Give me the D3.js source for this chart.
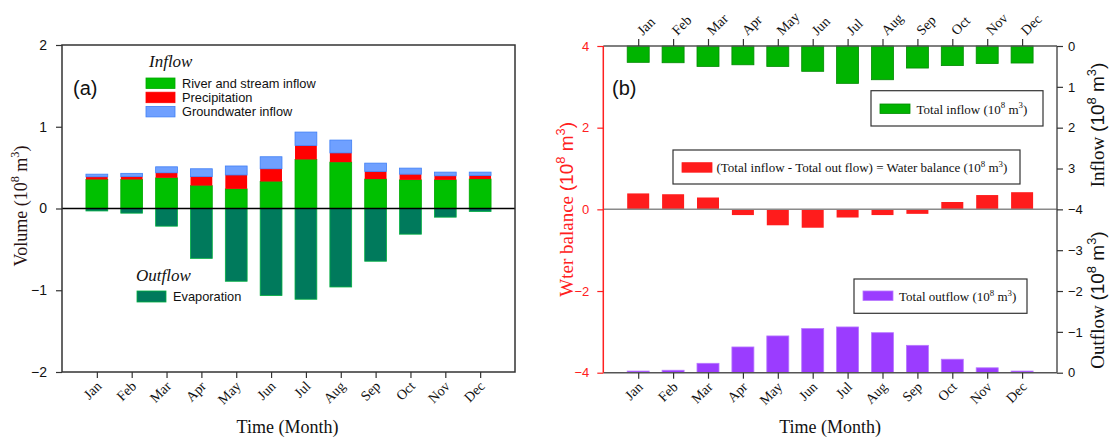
<!DOCTYPE html>
<html>
<head>
<meta charset="utf-8">
<script src="https://cdn.jsdelivr.net/npm/d3@7"></script>
<style>
html,body{margin:0;padding:0;background:#fff;}
svg{display:block;}
</style>
</head>
<body>
<svg id="chart" width="1109" height="440"></svg>
<script>
// ---------------- DATA ----------------
const months = ["Jan","Feb","Mar","Apr","May","Jun","Jul","Aug","Sep","Oct","Nov","Dec"];
// Panel (a) components (10^8 m^3)
const riverInflow   = [0.355,0.355,0.375,0.28,0.24,0.33,0.60,0.567,0.36,0.35,0.35,0.36];
const precipitation = [0.033,0.035,0.062,0.11,0.17,0.156,0.17,0.113,0.093,0.07,0.05,0.044];
const groundwater   = [0.032,0.04,0.073,0.096,0.11,0.147,0.165,0.157,0.102,0.074,0.045,0.041];
const evaporation   = [-0.03,-0.057,-0.216,-0.61,-0.89,-1.065,-1.11,-0.96,-0.645,-0.314,-0.106,-0.037];
// Panel (b)
const totalInflow   = [0.40,0.41,0.50,0.46,0.50,0.62,0.915,0.826,0.54,0.48,0.43,0.417];
const waterBalance  = [0.39,0.37,0.29,-0.14,-0.39,-0.45,-0.20,-0.14,-0.11,0.18,0.35,0.42];
const totalOutflow  = [-0.04,-0.06,-0.23,-0.63,-0.90,-1.08,-1.12,-0.98,-0.67,-0.33,-0.12,-0.04];
// Tick values
const ticksA = [-2,-1,0,1,2];
const ticksBLeft = [-4,-2,0,2,4];
const ticksInflow = [0,1,2,3];
const ticksOutflow = [-4,-3,-2,-1,0];

// ---------------- SETUP ----------------
const svg = d3.select("#chart");
const SERIF = "'Liberation Serif','Times New Roman',serif";
const SANS = "'Liberation Sans',Arial,sans-serif";
const monthIdx = d3.range(1,13);

// parts: [text, mode, fontFamily?]; mode 1 = superscript, -1 = back to baseline
function supText(sel, parts, fs){
  parts.forEach(([t,s,ff]) => {
    const ts = sel.append("tspan").text(t);
    if (ff) ts.attr("font-family", ff);
    if (s === 1) ts.attr("font-size", fs*0.68).attr("dy", -fs*0.42);
    else if (s === -1) ts.attr("dy", fs*0.42);
  });
}

// ================= PANEL (a) =================
const A = {l:62, r:515, t:45, b:372};
const xA = d3.scaleLinear().domain([0,13]).range([A.l, A.r]);
const yA = d3.scaleLinear().domain([-2,2]).range([A.b, A.t]);
const bw = 21.8;
const gA = svg.append("g");

const stackA = months.map((m,i)=>({i, r:riverInflow[i], p:precipitation[i], g:groundwater[i], e:evaporation[i]}));
gA.selectAll(".river").data(stackA).join("rect")
  .attr("x", d=>xA(d.i+1)-bw/2).attr("width", bw)
  .attr("y", d=>yA(d.r)).attr("height", d=>yA(0)-yA(d.r))
  .attr("fill","#00C000").attr("stroke","#00A800").attr("stroke-width",0.8);
gA.selectAll(".prec").data(stackA).join("rect")
  .attr("x", d=>xA(d.i+1)-bw/2).attr("width", bw)
  .attr("y", d=>yA(d.r+d.p)).attr("height", d=>yA(d.r)-yA(d.r+d.p))
  .attr("fill","#FF0000");
gA.selectAll(".gw").data(stackA).join("rect")
  .attr("x", d=>xA(d.i+1)-bw/2).attr("width", bw)
  .attr("y", d=>yA(d.r+d.p+d.g)).attr("height", d=>yA(d.r+d.p)-yA(d.r+d.p+d.g))
  .attr("fill","#6FA0FF").attr("stroke","#3F7FF5").attr("stroke-width",0.8);
gA.selectAll(".evap").data(stackA).join("rect")
  .attr("x", d=>xA(d.i+1)-bw/2).attr("width", bw)
  .attr("y", yA(0)).attr("height", d=>yA(d.e)-yA(0))
  .attr("fill","#007A5C").attr("stroke","#00B040").attr("stroke-width",0.8);

gA.append("line").attr("x1",A.l).attr("x2",A.r).attr("y1",yA(0)).attr("y2",yA(0))
  .attr("stroke","#000").attr("stroke-width",1.5);
gA.append("rect").attr("x",A.l).attr("y",A.t).attr("width",A.r-A.l).attr("height",A.b-A.t)
  .attr("fill","none").attr("stroke","#333").attr("stroke-width",1.5);

const axA = gA.append("g").attr("transform",`translate(${A.l},0)`)
  .call(d3.axisLeft(yA).tickValues(ticksA).tickSize(6).tickPadding(9).tickFormat(d3.format("d")));
axA.select(".domain").remove();
axA.selectAll("line").attr("stroke","#333").attr("stroke-width",1.2);
axA.selectAll("text").attr("font-family",SANS).attr("font-size",14).attr("fill","#111");
const axAx = gA.append("g").attr("transform",`translate(0,${A.b})`)
  .call(d3.axisBottom(xA).tickValues(monthIdx).tickSize(6).tickFormat(i=>months[i-1]));
axAx.select(".domain").remove();
axAx.selectAll("line").attr("stroke","#333").attr("stroke-width",1.2);
axAx.selectAll("text").attr("y",0).attr("dy",0)
  .attr("transform","translate(5,15) rotate(-45)").attr("text-anchor","end")
  .attr("font-family",SERIF).attr("font-size",14).attr("fill","#111");

gA.append("text").attr("x",(A.l+A.r)/2-1).attr("y",433).attr("text-anchor","middle")
  .attr("font-family",SERIF).attr("font-size",18).attr("fill","#111").text("Time (Month)");
const ylA = gA.append("text").attr("transform","translate(27,206) rotate(-90)")
  .attr("text-anchor","middle").attr("font-family",SERIF).attr("font-size",18).attr("fill","#2a1414");
supText(ylA, [["Volume  (10",0],["8",1],[" m",-1],["3",1],[")",-1]], 18);

gA.append("text").attr("x",73).attr("y",95).attr("font-family",SANS).attr("font-size",20).attr("fill","#111").text("(a)");
gA.append("text").attr("x",149).attr("y",67).attr("font-family",SERIF).attr("font-style","italic")
  .attr("font-size",17).attr("fill","#111").text("Inflow");
const legA = [["River and stream inflow","#00C000","#00A800"],["Precipitation","#FF0000","#FF0000"],["Groundwater inflow","#6FA0FF","#3F7FF5"]];
legA.forEach(([t,f,s],k)=>{
  gA.append("rect").attr("x",146).attr("y",78+k*14.2).attr("width",29).attr("height",10.5)
    .attr("fill",f).attr("stroke",s).attr("stroke-width",0.8);
  gA.append("text").attr("x",182).attr("y",88+k*14.2).attr("font-family",SANS).attr("font-size",12.8)
    .attr("fill","#111").text(t);
});
gA.append("text").attr("x",136).attr("y",281).attr("font-family",SERIF).attr("font-style","italic")
  .attr("font-size",17).attr("fill","#111").text("Outflow");
gA.append("rect").attr("x",137).attr("y",291).attr("width",29).attr("height",11)
  .attr("fill","#007A5C").attr("stroke","#00B040").attr("stroke-width",0.8);
gA.append("text").attr("x",173).attr("y",301).attr("font-family",SANS).attr("font-size",12.8)
  .attr("fill","#111").text("Evaporation");

// ================= PANEL (b) =================
const B = {l:603.3, r:1057, t:46, b:372.7};
const midB = (B.t+B.b)/2;
const xB = d3.scaleLinear().domain([0,13]).range([B.l, B.r]);
const yBL = d3.scaleLinear().domain([-4,4]).range([B.b, B.t]);
const yIn = d3.scaleLinear().domain([0,4]).range([B.t, midB]);
const yOut = d3.scaleLinear().domain([-4,0]).range([midB, B.b]);
const bwB = 22;
const gB = svg.append("g");

gB.selectAll(".tin").data(totalInflow).join("rect")
  .attr("x",(d,i)=>xB(i+1)-bwB/2).attr("width",bwB)
  .attr("y",yIn(0)).attr("height",d=>yIn(d)-yIn(0))
  .attr("fill","#00B400").attr("stroke","#008A00").attr("stroke-width",0.8);
gB.selectAll(".wb").data(waterBalance).join("rect")
  .attr("x",(d,i)=>xB(i+1)-bwB/2).attr("width",bwB)
  .attr("y",d=>yBL(Math.max(0,d))).attr("height",d=>Math.abs(yBL(d)-yBL(0)))
  .attr("fill","#FF1C1C");
gB.selectAll(".tout").data(totalOutflow).join("rect")
  .attr("x",(d,i)=>xB(i+1)-bwB/2).attr("width",bwB)
  .attr("y",d=>yOut(d)).attr("height",d=>yOut(0)-yOut(d))
  .attr("fill","#9B3CFF").attr("stroke","#B878FF").attr("stroke-width",0.8);

gB.append("line").attr("x1",B.l).attr("x2",B.r).attr("y1",yBL(0)).attr("y2",yBL(0))
  .attr("stroke","#8a8a8a").attr("stroke-width",1.5);
gB.append("line").attr("x1",B.l).attr("x2",B.r).attr("y1",B.t).attr("y2",B.t).attr("stroke","#555").attr("stroke-width",1.5);
gB.append("line").attr("x1",B.l).attr("x2",B.r).attr("y1",B.b).attr("y2",B.b).attr("stroke","#555").attr("stroke-width",1.5);
gB.append("line").attr("x1",B.r).attr("x2",B.r).attr("y1",B.t).attr("y2",B.b).attr("stroke","#555").attr("stroke-width",1.5);
gB.append("line").attr("x1",B.l).attr("x2",B.l).attr("y1",B.t).attr("y2",B.b).attr("stroke","#FF2020").attr("stroke-width",1.5);

const axBL = gB.append("g").attr("transform",`translate(${B.l},0)`)
  .call(d3.axisLeft(yBL).tickValues(ticksBLeft).tickSize(6).tickPadding(8).tickFormat(d3.format("d")));
axBL.select(".domain").remove();
axBL.selectAll("line").attr("stroke","#FF2020").attr("stroke-width",1.2);
axBL.selectAll("text").attr("font-family",SANS).attr("font-size",13).attr("fill","#FF2020");
const axIn = gB.append("g").attr("transform",`translate(${B.r},0)`)
  .call(d3.axisRight(yIn).tickValues(ticksInflow).tickSize(6).tickPadding(5).tickFormat(d3.format("d")));
const axOut = gB.append("g").attr("transform",`translate(${B.r},0)`)
  .call(d3.axisRight(yOut).tickValues(ticksOutflow).tickSize(6).tickPadding(5).tickFormat(d3.format("d")));
[axIn,axOut].forEach(a=>{
  a.select(".domain").remove();
  a.selectAll("line").attr("stroke","#333").attr("stroke-width",1.2);
  a.selectAll("text").attr("font-family",SANS).attr("font-size",13).attr("fill","#111");
});
const axBT = gB.append("g").attr("transform",`translate(0,${B.t})`)
  .call(d3.axisTop(xB).tickValues(monthIdx).tickSize(7).tickFormat(i=>months[i-1]));
axBT.select(".domain").remove();
axBT.selectAll("line").attr("stroke","#333").attr("stroke-width",1.2);
axBT.selectAll("text").attr("y",0).attr("dy",0)
  .attr("transform","translate(4,-10) rotate(-45)").attr("text-anchor","start")
  .attr("font-family",SERIF).attr("font-size",14).attr("fill","#111");
const axBB = gB.append("g").attr("transform",`translate(0,${B.b})`)
  .call(d3.axisBottom(xB).tickValues(monthIdx).tickSize(6).tickFormat(i=>months[i-1]));
axBB.select(".domain").remove();
axBB.selectAll("line").attr("stroke","#333").attr("stroke-width",1.2);
axBB.selectAll("text").attr("y",0).attr("dy",0)
  .attr("transform","translate(5,15) rotate(-45)").attr("text-anchor","end")
  .attr("font-family",SERIF).attr("font-size",14).attr("fill","#111");

gB.append("text").attr("x",(B.l+B.r)/2).attr("y",433).attr("text-anchor","middle")
  .attr("font-family",SERIF).attr("font-size",18).attr("fill","#111").text("Time (Month)");
const ylB = gB.append("text").attr("transform",`translate(573,${midB}) rotate(-90)`)
  .attr("text-anchor","middle").attr("font-family",SERIF).attr("font-size",19).attr("fill","#FF2020");
supText(ylB, [["Wter balance  ",0],["(10",0,SANS],["8",1,SANS],[" m",-1,SANS],["3",1,SANS],[")",-1,SANS]], 19);
const yrIn = gB.append("text").attr("transform",`translate(1104,125) rotate(-90)`)
  .attr("text-anchor","middle").attr("font-family",SERIF).attr("font-size",19).attr("fill","#111");
supText(yrIn, [["Inflow  ",0],["(10",0,SANS],["8",1,SANS],[" m",-1,SANS],["3",1,SANS],[")",-1,SANS]], 19);
const yrOut = gB.append("text").attr("transform",`translate(1104,300) rotate(-90)`)
  .attr("text-anchor","middle").attr("font-family",SERIF).attr("font-size",19).attr("fill","#111");
supText(yrOut, [["Outflow  ",0],["(10",0,SANS],["8",1,SANS],[" m",-1,SANS],["3",1,SANS],[")",-1,SANS]], 19);

gB.append("text").attr("x",612).attr("y",95).attr("font-family",SANS).attr("font-size",20).attr("fill","#111").text("(b)");

function legendBox(x,y,w,h,sx,sy,fill,stroke,tx,ty,parts){
  gB.append("rect").attr("x",x).attr("y",y).attr("width",w).attr("height",h)
    .attr("fill","#fff").attr("stroke","#333").attr("stroke-width",1.2);
  gB.append("rect").attr("x",sx).attr("y",sy).attr("width",30).attr("height",9.5)
    .attr("fill",fill).attr("stroke",stroke).attr("stroke-width",0.8);
  const t = gB.append("text").attr("x",tx).attr("y",ty).attr("font-family",SERIF)
    .attr("font-size",13).attr("fill","#111");
  supText(t, parts, 13);
}
legendBox(871,90.7,172,35.3, 880,104,"#00B400","#008A00", 916.5,113.5,
  [["Total inflow (10",0],["8",1],[" m",-1],["3",1],[")",-1]]);
legendBox(673,150,347,34, 682,162.7,"#FF1C1C","#FF1C1C", 716.5,172,
  [["(Total inflow - Total out flow) = Water balance (10",0],["8",1],[" m",-1],["3",1],[")",-1]]);
legendBox(854,279,173,34.3, 863,291,"#9B3CFF","#B878FF", 899,301,
  [["Total outflow (10",0],["8",1],[" m",-1],["3",1],[")",-1]]);
</script>
</body>
</html>
